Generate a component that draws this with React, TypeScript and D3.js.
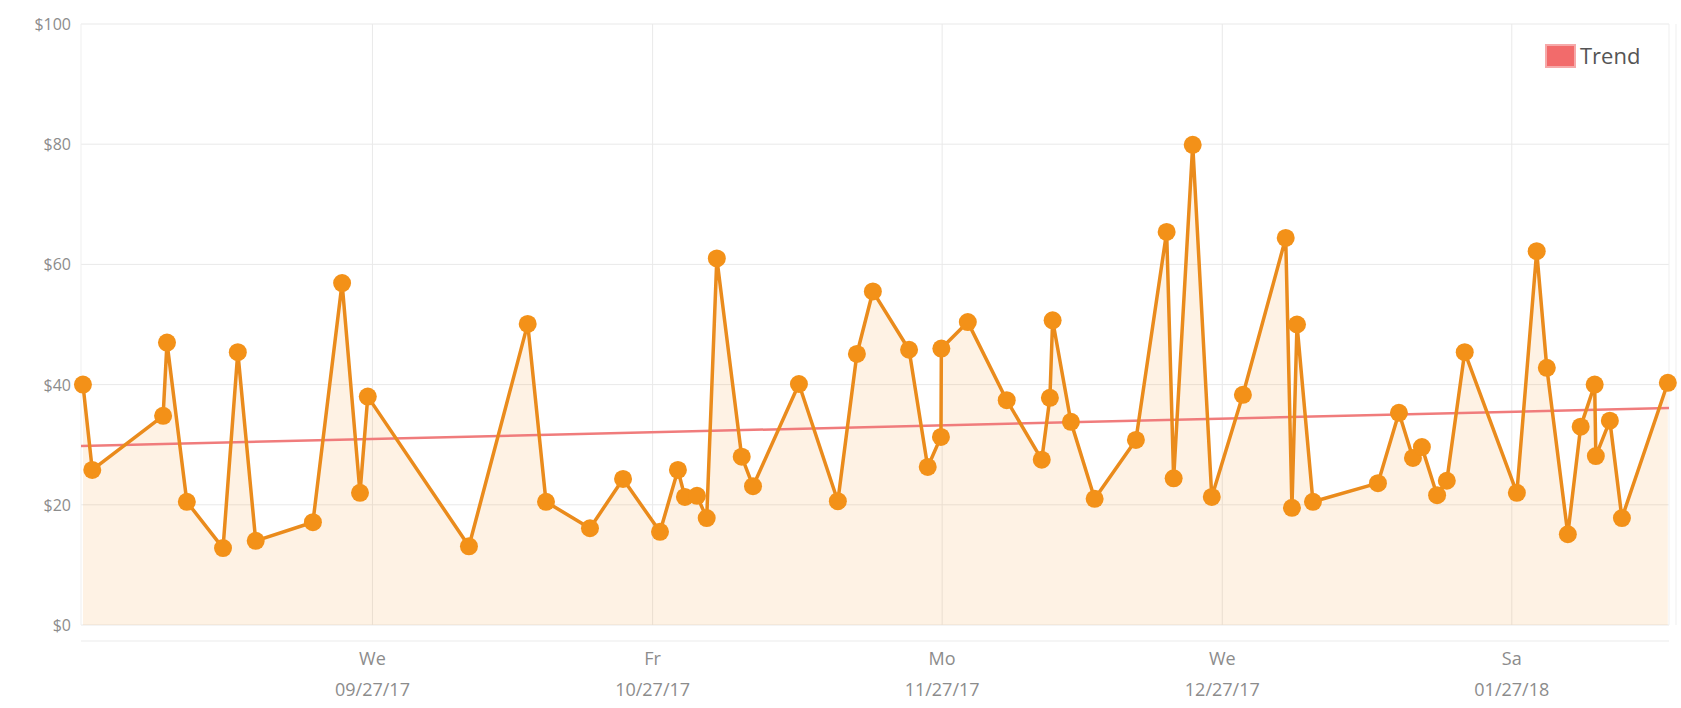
import { useEffect, useRef } from "react";
import * as d3 from "d3";

// order dates (local time) and order totals
const orderDates = [
  "2017-08-27 00:00", "2017-08-28 00:00", "2017-09-04 14:00", "2017-09-05 00:00",
  "2017-09-07 03:00", "2017-09-11 00:00", "2017-09-12 14:00", "2017-09-14 12:00",
  "2017-09-20 15:00", "2017-09-23 18:00", "2017-09-25 16:00", "2017-09-26 12:00",
  "2017-10-07 08:00", "2017-10-13 15:00", "2017-10-15 14:00", "2017-10-20 07:00",
  "2017-10-23 20:00", "2017-10-27 19:00", "2017-10-29 17:00", "2017-10-30 11:00",
  "2017-10-31 18:00", "2017-11-01 19:00", "2017-11-02 21:00", "2017-11-05 13:00",
  "2017-11-06 18:00", "2017-11-11 16:00", "2017-11-15 20:00", "2017-11-17 21:00",
  "2017-11-19 14:00", "2017-11-23 11:00", "2017-11-25 11:00", "2017-11-26 21:00",
  "2017-11-26 22:00", "2017-11-29 18:00", "2017-12-03 22:00", "2017-12-07 16:00",
  "2017-12-08 13:00", "2017-12-08 20:00", "2017-12-10 19:00", "2017-12-13 08:00",
  "2017-12-17 18:00", "2017-12-21 01:00", "2017-12-21 19:00", "2017-12-23 20:00",
  "2017-12-25 21:00", "2017-12-29 05:00", "2018-01-02 19:00", "2018-01-03 11:00",
  "2018-01-04 00:00", "2018-01-05 17:00", "2018-01-12 16:00", "2018-01-14 22:00",
  "2018-01-16 10:00", "2018-01-17 09:00", "2018-01-19 00:00", "2018-01-20 01:00",
  "2018-01-21 23:00", "2018-01-27 13:00", "2018-01-29 16:00", "2018-01-30 18:00",
  "2018-02-02 00:00", "2018-02-03 09:00", "2018-02-04 21:00", "2018-02-05 00:00",
  "2018-02-06 12:00", "2018-02-07 19:00", "2018-02-12 17:00",
];

const orderTotals = [
  40, 25.8, 34.8, 47, 20.5, 12.8, 45.4, 14, 17.1, 56.9, 22, 38,
  13.1, 50.1, 20.5, 16.1, 24.3, 15.5, 25.8, 21.3, 21.5, 17.8, 61, 28,
  23.1, 40.1, 20.6, 45.1, 55.5, 45.8, 26.3, 31.3, 46, 50.4, 37.4, 27.5,
  37.8, 50.7, 33.8, 21, 30.8, 65.4, 24.4, 79.9, 21.3, 38.3, 64.4, 19.5,
  50, 20.5, 23.6, 35.3, 27.8, 29.6, 21.6, 24, 45.4, 22, 62.2, 42.8,
  15.1, 33, 40, 28.1, 34, 17.8, 40.3,
];

// trend line end points
const trendDates = ["2017-08-26 19:00", "2018-02-12 20:00"];
const trendTotals = [29.8, 36.1];

const yTicks = [0, 20, 40, 60, 80, 100];
const xTickDates = ["2017-09-27 00:00", "2017-10-27 00:00", "2017-11-27 00:00", "2017-12-27 00:00", "2018-01-27 00:00"];
const dayNames = ["Su", "Mo", "Tu", "We", "Th", "Fr", "Sa"];

const parse = d3.timeParse("%Y-%m-%d %H:%M");

interface Point {
  date: Date;
  value: number;
}

export default function App() {
  const svgRef = useRef<SVGSVGElement>(null);

  useEffect(() => {
    document.body.style.margin = "0";
    if (!svgRef.current) return;

    const svg = d3.select(svgRef.current);
    svg.selectAll("*").remove();

    const width = 1681;
    const height = 708;
    const left = 81;
    const right = 1669;
    const top = 24;
    const bottom = 625;
    const font = "'Open Sans', 'Noto Sans', sans-serif";

    const data: Point[] = orderDates.map((d, i) => ({ date: parse(d)!, value: orderTotals[i] }));
    const trend: Point[] = trendDates.map((d, i) => ({ date: parse(d)!, value: trendTotals[i] }));

    const xScale = d3
      .scaleTime()
      .domain([parse(trendDates[0])!, parse(trendDates[1])!])
      .range([left, right]);

    const yScale = d3.scaleLinear().domain([0, 100]).range([bottom, top]);

    svg.attr("width", width).attr("height", height);
    svg.append("rect").attr("width", width).attr("height", height).attr("fill", "#ffffff");

    // faint strip under the plot
    svg
      .append("line")
      .attr("x1", left)
      .attr("x2", right)
      .attr("y1", 641)
      .attr("y2", 641)
      .attr("stroke", "#f5f5f5")
      .attr("stroke-width", 2);

    // horizontal grid + y labels
    yTicks.forEach((t) => {
      svg
        .append("line")
        .attr("x1", left)
        .attr("x2", right)
        .attr("y1", yScale(t))
        .attr("y2", yScale(t))
        .attr("stroke", "#e9e9e9")
        .attr("stroke-width", 1);
      svg
        .append("text")
        .attr("x", 71)
        .attr("y", yScale(t) + 6)
        .attr("text-anchor", "end")
        .attr("font-family", font)
        .attr("font-size", "16px")
        .attr("fill", "#8c8c8c")
        .text(`$${t}`);
    });

    // plot borders left/right
    [left, right, right + 7].forEach((x) => {
      svg
        .append("line")
        .attr("x1", x)
        .attr("x2", x)
        .attr("y1", top)
        .attr("y2", bottom)
        .attr("stroke", "#efefef")
        .attr("stroke-width", 1);
    });

    // vertical grid + x labels
    const fmtDate = d3.timeFormat("%m/%d/%y");
    xTickDates.forEach((s) => {
      const d = parse(s)!;
      const x = xScale(d);
      svg
        .append("line")
        .attr("x1", x)
        .attr("x2", x)
        .attr("y1", top)
        .attr("y2", bottom)
        .attr("stroke", "#e9e9e9")
        .attr("stroke-width", 1);
      const label = svg
        .append("text")
        .attr("text-anchor", "middle")
        .attr("font-family", font)
        .attr("font-size", "18px")
        .attr("fill", "#8c8c8c");
      label.append("tspan").attr("x", x).attr("y", 665).text(dayNames[d.getDay()]);
      label.append("tspan").attr("x", x).attr("y", 696).text(fmtDate(d));
    });

    // area under the series
    const area = d3
      .area<Point>()
      .x((d) => xScale(d.date))
      .y0(yScale(0))
      .y1((d) => yScale(d.value));

    svg
      .append("path")
      .datum(data)
      .attr("d", area)
      .attr("fill", "#f7941d")
      .attr("fill-opacity", 0.12);

    // trend line
    const line = d3
      .line<Point>()
      .x((d) => xScale(d.date))
      .y((d) => yScale(d.value));

    svg
      .append("path")
      .datum(trend)
      .attr("d", line)
      .attr("fill", "none")
      .attr("stroke", "#f07c7c")
      .attr("stroke-width", 2.5);

    // series line
    svg
      .append("path")
      .datum(data)
      .attr("d", line)
      .attr("fill", "none")
      .attr("stroke", "#ea8b1c")
      .attr("stroke-width", 3.5)
      .attr("stroke-linejoin", "round");

    // points
    svg
      .selectAll(".pt")
      .data(data)
      .join("circle")
      .attr("class", "pt")
      .attr("cx", (d) => xScale(d.date))
      .attr("cy", (d) => yScale(d.value))
      .attr("r", 9)
      .attr("fill", "#f39118");

    // legend
    svg
      .append("rect")
      .attr("x", 1546)
      .attr("y", 45)
      .attr("width", 29)
      .attr("height", 22)
      .attr("fill", "#f26b6b")
      .attr("stroke", "#f6a9a9")
      .attr("stroke-width", 2);
    svg
      .append("text")
      .attr("x", 1580)
      .attr("y", 64)
      .attr("font-family", font)
      .attr("font-size", "22px")
      .attr("fill", "#555555")
      .text("Trend");
  }, []);

  return <svg ref={svgRef} style={{ display: "block" }} />;
}
